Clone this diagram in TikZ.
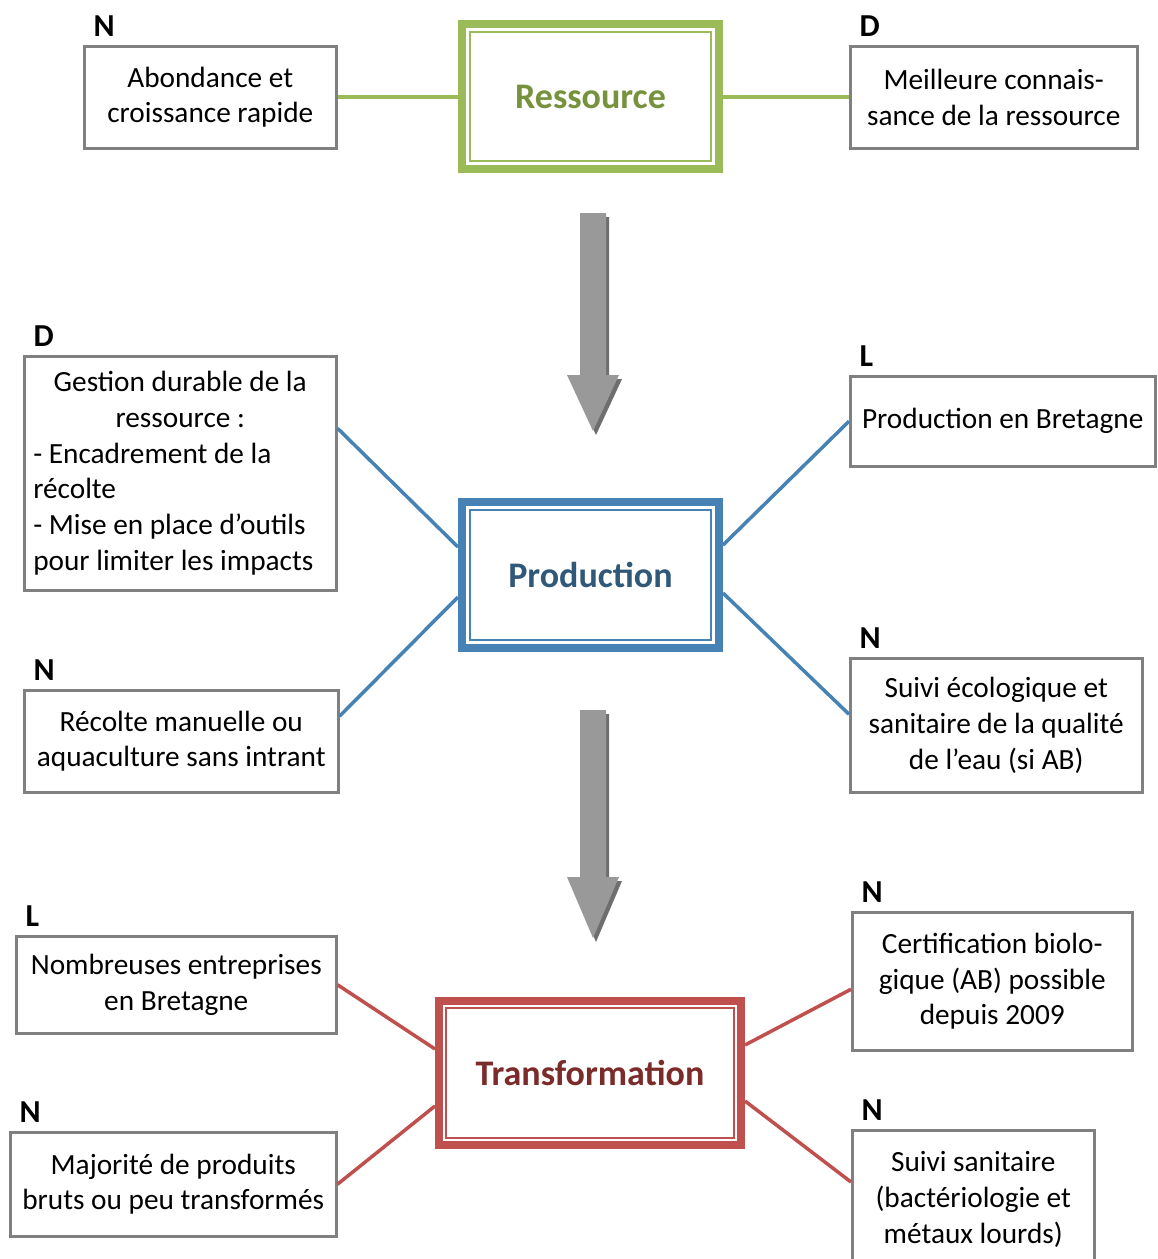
\documentclass[tikz,border=0pt]{standalone}
\usepackage{fontspec}
\setmainfont{Carlito}
\definecolor{resG}{HTML}{9BBB59}
\definecolor{resT}{HTML}{76923C}
\definecolor{proB}{HTML}{4682B4}
\definecolor{proT}{HTML}{2F5879}
\definecolor{traR}{HTML}{C0504D}
\definecolor{traT}{HTML}{7B2C2A}
\definecolor{boxgray}{HTML}{808080}
\definecolor{arrfill}{HTML}{999999}
\definecolor{arrshade}{HTML}{6E6E6E}

\begin{document}
\begin{tikzpicture}[x=1pt, y=-1pt,
  box/.style={draw=boxgray, line width=2.5pt, fill=white, anchor=north west,
    align=center, inner sep=0pt, font=\fontsize{29.3}{35.8}\selectfont},
  hub/.style={draw=#1, line width=8pt, fill=white, minimum width=257pt,
    minimum height=145pt, font=\fontsize{36}{40}\selectfont\bfseries},
  tag/.style={anchor=base west, font=\fontsize{32}{36}\selectfont\bfseries},
  link/.style={draw=#1, line width=3.5pt}]

  \useasboundingbox (0,0) rectangle (1158,1259);

  % block arrows between the stages
  \foreach \ya/\yb/\yc in {213/375/431, 710/877/938}{
    \fill[arrshade, shift={(3,4)}] (580,\ya) -- (606,\ya) -- (606,\yb) -- (619,\yb)
      -- (593,\yc) -- (567,\yb) -- (580,\yb) -- cycle;
    \fill[arrfill] (580,\ya) -- (606,\ya) -- (606,\yb) -- (619,\yb)
      -- (593,\yc) -- (567,\yb) -- (580,\yb) -- cycle;
  }

  % stages
  \node[hub=resG, text=resT] (res) at (590.5,96.5) {Ressource};
  \node[hub=proB, text=proT, minimum height=146pt] (pro) at (590.5,575) {Production};
  \node[hub=traR, text=traT, minimum width=302pt, minimum height=144pt] (tra) at (590,1073) {Transformation};
  \foreach \n/\c/\d in {res/resG/12, pro/proB/12, tra/traR/11}
    \draw[\c, line width=2pt] ([xshift=\d pt,yshift=-\d pt]\n.north west)
      rectangle ([xshift=-\d pt,yshift=\d pt]\n.south east);

  % side boxes
  \node[box, minimum width=252pt, minimum height=102pt] (n1) at (83,45) {Abondance et\\croissance rapide};
  \node[box, minimum width=287pt, minimum height=102pt] (d1) at (849,45) {Meilleure connais-\\sance de la ressource};
  \node[box, text width=294pt, align=flush left, inner xsep=9pt, minimum height=234pt] (d2) at (23,355)
    {\makebox[294pt]{Gestion durable de la}\\\makebox[294pt]{ressource :}\\- Encadrement de la\\récolte\\- Mise en place d’outils\\pour limiter les impacts};
  \node[box, minimum width=305pt, minimum height=90pt] (l1) at (849,375) {Production en Bretagne};
  \node[box, minimum width=314pt, minimum height=102pt] (n2) at (23,689) {Récolte manuelle ou\\aquaculture sans intrant};
  \node[box, minimum width=292pt, minimum height=134pt] (n3) at (849,657) {Suivi écologique et\\sanitaire de la qualité\\de l’eau (si AB)};
  \node[box, minimum width=320pt, minimum height=97pt] (l2) at (15,935) {Nombreuses entreprises\\en Bretagne};
  \node[box, minimum width=280pt, minimum height=138pt] (n4) at (851,911) {Certification biolo-\\gique (AB) possible\\depuis 2009};
  \node[box, minimum width=326pt, minimum height=104pt] (n5) at (9,1131) {Majorité de produits\\bruts ou peu transformés};
  \node[box, minimum width=242pt, minimum height=138pt] (n6) at (851,1129) {Suivi sanitaire\\(bactériologie et\\métaux lourds)};

  % letters above the boxes
  \foreach \b/\t in {n1/N, d1/D, d2/D, l1/L, n2/N, n3/N, l2/L, n4/N, n5/N, n6/N}
    \node[tag] (t\b) at ([xshift=7pt,yshift=9pt]\b.north west) {\t};

  % links
  \draw[link=resG, line width=4pt] (n1.east) -- (n1.east -| res.west);
  \draw[link=resG, line width=4pt] (res.east) -- (res.east -| d1.west);

  \draw[link=proB] ([yshift=45pt]d2.east) -- ([yshift=28pt]pro.west);
  \draw[link=proB] ([yshift=30pt]pro.east) -- (l1.west);
  \draw[link=proB] ([yshift=25pt]n2.east) -- ([yshift=-22pt]pro.west);
  \draw[link=proB] ([yshift=-18pt]pro.east) -- ([yshift=11pt]n3.west);

  \draw[link=traR] (l2.east) -- ([yshift=24pt]tra.west);
  \draw[link=traR] (n5.east) -- ([yshift=-33pt]tra.west);
  \draw[link=traR] ([yshift=28pt]tra.east) -- ([yshift=-8pt]n4.west);
  \draw[link=traR] ([yshift=-28pt]tra.east) -- ([yshift=-53pt]n6.north west);

\end{tikzpicture}
\end{document}
